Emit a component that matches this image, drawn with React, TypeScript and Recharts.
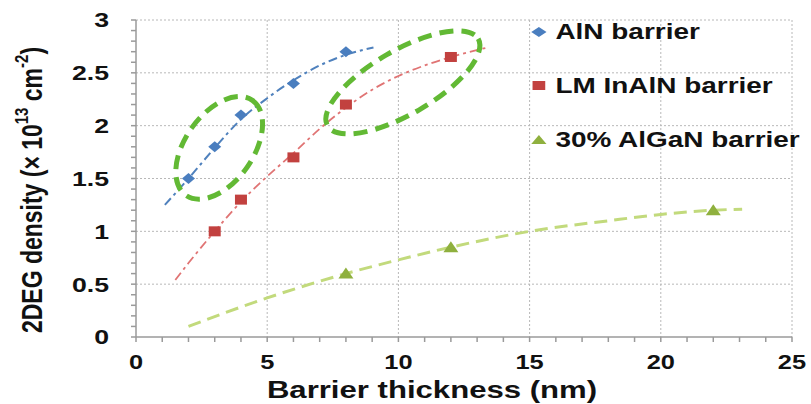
import React from 'react'
import {
  ComposedChart,
  Line,
  Scatter,
  XAxis,
  YAxis,
  CartesianGrid,
  ReferenceDot,
} from 'recharts'

// measured points
const alnX = [2, 3, 4, 6, 8]
const alnY = [1.5, 1.8, 2.1, 2.4, 2.7]
const inalnX = [3, 4, 6, 8, 12]
const inalnY = [1.0, 1.3, 1.7, 2.2, 2.65]
const alganX = [8, 12, 22]
const alganY = [0.6, 0.85, 1.2]

// dashed fit curves
const alnFitX = [1.1, 2, 3, 4, 5, 6, 7, 8, 9.05]
const alnFitY = [1.25, 1.5, 1.79, 2.06, 2.26, 2.43, 2.57, 2.67, 2.74]
const inalnFitX = [1.5, 2, 3, 4, 5, 6, 7, 8, 9, 10, 11, 12, 13.4]
const inalnFitY = [0.54, 0.7, 1.0, 1.28, 1.52, 1.74, 1.97, 2.17, 2.34, 2.47, 2.57, 2.65, 2.74]
const alganFitX = [2, 5, 8, 10, 12, 15, 18, 20, 22, 23.1]
const alganFitY = [0.1, 0.37, 0.6, 0.73, 0.85, 1.0, 1.1, 1.16, 1.2, 1.21]

// highlighted groups (ellipse centres)
const ringX = [3.17, 10.17]
const ringY = [1.79, 2.41]

const xTicks = [0, 1, 2, 3, 4, 5, 6, 7, 8, 9, 10, 11, 12, 13, 14, 15, 16, 17, 18, 19, 20, 21, 22, 23, 24, 25]
const yTicks = [
  0, 0.1, 0.2, 0.3, 0.4, 0.5, 0.6, 0.7, 0.8, 0.9, 1, 1.1, 1.2, 1.3, 1.4, 1.5, 1.6, 1.7, 1.8, 1.9, 2,
  2.1, 2.2, 2.3, 2.4, 2.5, 2.6, 2.7, 2.8, 2.9, 3,
]
const legendNames = ['AlN barrier', 'LM InAlN barrier', '30% AlGaN barrier']

const zip = (xs: number[], ys: number[]) => xs.map((x, i) => ({ x, y: ys[i] }))

const SX = 1.27
const FONT = '"Liberation Sans", Arial, sans-serif'
const AXIS = '#9a9a9a'

const XTick = (props: any) => {
  const { x, y, payload } = props
  if (payload.value % 5 !== 0) return <g />
  return (
    <text
      transform={`translate(${x},${y + 18.5}) scale(${SX},1)`}
      textAnchor="middle"
      dominantBaseline="central"
      fontFamily={FONT}
      fontWeight="bold"
      fontSize={20}
      fill="#111"
    >
      {payload.value}
    </text>
  )
}

const YTick = (props: any) => {
  const { x, y, payload } = props
  const v = payload.value
  if (Math.abs(v * 2 - Math.round(v * 2)) > 1e-6) return <g />
  return (
    <text
      transform={`translate(${x - 20},${y}) scale(${SX},1)`}
      textAnchor="end"
      dominantBaseline="central"
      fontFamily={FONT}
      fontWeight="bold"
      fontSize={21}
      fill="#111"
    >
      {String(v)}
    </text>
  )
}

const Diamond = (p: any) => (
  <path d={`M${p.cx},${p.cy - 5.5}L${p.cx + 6.5},${p.cy}L${p.cx},${p.cy + 5.5}L${p.cx - 6.5},${p.cy}Z`} fill="#4a7ebf" />
)
const Square = (p: any) => <rect x={p.cx - 6} y={p.cy - 5} width={12} height={10} fill="#c2413f" />
const Triangle = (p: any) => (
  <path d={`M${p.cx},${p.cy - 6}L${p.cx + 7.5},${p.cy + 5}L${p.cx - 7.5},${p.cy + 5}Z`} fill="#8fb03e" />
)

const ringStyle = [
  { rx: 58, ry: 34, rot: -55 },
  { rx: 87, ry: 32, rot: -30 },
]

const Ring = (i: number) => (p: any) => (
  <ellipse
    cx={p.cx}
    cy={p.cy}
    rx={ringStyle[i].rx}
    ry={ringStyle[i].ry}
    transform={`rotate(${ringStyle[i].rot} ${p.cx} ${p.cy})`}
    fill="none"
    stroke="#62b934"
    strokeWidth={5}
    strokeDasharray="14 8"
  />
)

const LegendMark = ({ i }: { i: number }) => (
  <svg width={14} height={12} style={{ marginRight: 6 }}>
    {i === 0 && <path d="M7,1L13,6L7,11L1,6Z" fill="#4a7ebf" />}
    {i === 1 && <rect x={2} y={1} width={10} height={9} fill="#c2413f" />}
    {i === 2 && <path d="M7,1L13,10L1,10Z" fill="#8fb03e" />}
  </svg>
)

export default function App() {
  return (
    <div style={{ position: 'absolute', left: 0, top: 0, width: 811, height: 404, background: '#fff' }}>
      <ComposedChart width={811} height={404} margin={{ top: 20, right: 19, bottom: 0, left: 0 }}>
        <CartesianGrid
          stroke="#b8b8b8"
          strokeDasharray="2 2"
          horizontalValues={[0.5, 1, 1.5, 2, 2.5, 3]}
          verticalValues={[5, 10, 15, 20, 25]}
        />
        <XAxis
          type="number"
          dataKey="x"
          domain={[0, 25]}
          ticks={xTicks}
          interval={0}
          height={67}
          tick={<XTick />}
          tickSize={5}
          stroke={AXIS}
          strokeWidth={1.5}
          label={{
            content: () => (
              <text
                transform={`translate(432,390) scale(${SX},1)`}
                textAnchor="middle"
                dominantBaseline="central"
                fontFamily={FONT}
                fontWeight="bold"
                fontSize={24.5}
                fill="#111"
              >
                Barrier thickness (nm)
              </text>
            ),
          }}
        />
        <YAxis
          type="number"
          domain={[0, 3]}
          ticks={yTicks}
          interval={0}
          width={136}
          tick={<YTick />}
          tickSize={5}
          stroke={AXIS}
          strokeWidth={1.5}
          label={{
            content: () => (
              <text
                transform={`translate(32,190) scale(${SX},1) rotate(-90)`}
                textAnchor="middle"
                dominantBaseline="central"
                fontFamily={FONT}
                fontWeight="bold"
                fontSize={23}
                fill="#111"
              >
                2DEG density (× 10
                <tspan baselineShift="super" fontSize={15}>13</tspan>
                <tspan> cm</tspan>
                <tspan baselineShift="super" fontSize={15}>-2</tspan>)
              </text>
            ),
          }}
        />
        <Line
          data={zip(alnFitX, alnFitY)}
          dataKey="y"
          type="monotone"
          stroke="#4f81bd"
          strokeWidth={2}
          strokeDasharray="9 4 3 4"
          dot={false}
          isAnimationActive={false}
        />
        <Line
          data={zip(inalnFitX, inalnFitY)}
          dataKey="y"
          type="monotone"
          stroke="#e07474"
          strokeWidth={1.8}
          strokeDasharray="9 4 3 4"
          dot={false}
          isAnimationActive={false}
        />
        <Line
          data={zip(alganFitX, alganFitY)}
          dataKey="y"
          type="monotone"
          stroke="#c2da7c"
          strokeWidth={3}
          strokeDasharray="13 7"
          dot={false}
          isAnimationActive={false}
        />
        <Scatter data={zip(alnX, alnY)} dataKey="y" shape={Diamond} isAnimationActive={false} />
        <Scatter data={zip(inalnX, inalnY)} dataKey="y" shape={Square} isAnimationActive={false} />
        <Scatter data={zip(alganX, alganY)} dataKey="y" shape={Triangle} isAnimationActive={false} />
        <ReferenceDot x={ringX[0]} y={ringY[0]} shape={Ring(0)} />
        <ReferenceDot x={ringX[1]} y={ringY[1]} shape={Ring(1)} />
      </ComposedChart>
      <div
        style={{
          position: 'absolute',
          left: 530,
          top: 18,
          fontFamily: FONT,
          fontWeight: 'bold',
          fontSize: 22,
          color: '#111',
          transform: `scaleX(${SX})`,
          transformOrigin: 'left top',
        }}
      >
        {legendNames.map((n, i) => (
          <div key={n} style={{ display: 'flex', alignItems: 'center', height: 27, marginBottom: 27 }}>
            <LegendMark i={i} />
            {n}
          </div>
        ))}
      </div>
    </div>
  )
}
